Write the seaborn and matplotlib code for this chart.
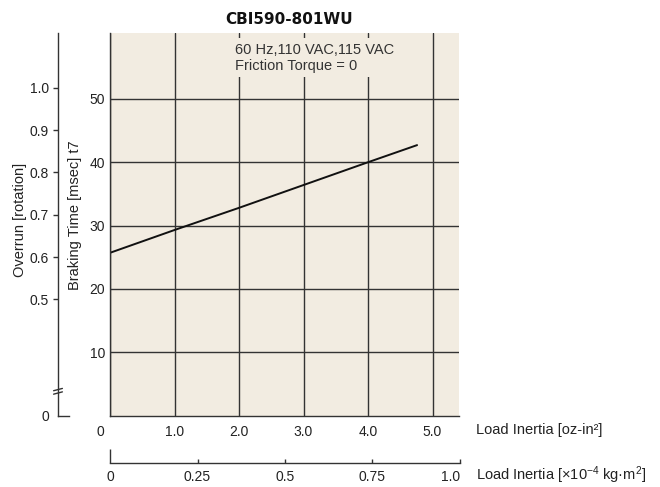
import numpy as np
import pandas as pd
import matplotlib
matplotlib.use("Agg")
import matplotlib.pyplot as plt
import matplotlib.transforms as mtransforms
import seaborn as sns

# chart data
load_inertia_oz = [0.0, 1.0, 2.0, 3.0, 4.0, 4.76]
braking_time = [25.7, 29.3, 32.8, 36.4, 40.0, 42.7]

x_ticks = [0, 1, 2, 3, 4, 5]
x_tick_labels = ["0", "1.0", "2.0", "3.0", "4.0", "5.0"]
y_ticks = [10, 20, 30, 40, 50]
overrun_ticks = [0.5, 0.6, 0.7, 0.8, 0.9, 1.0]
overrun_labels = ["0.5", "0.6", "0.7", "0.8", "0.9", "1.0"]
si_ticks = [0.25, 0.5, 0.75, 1.0]
si_labels = ["0.25", "0.5", "0.75", "1.0"]

title = "CBI590-801WU"
note = "60 Hz,110 VAC,115 VAC\nFriction Torque = 0"

sns.set_theme(style="white")
plt.rcParams["font.family"] = ["Liberation Sans", "DejaVu Sans"]
plt.rcParams["mathtext.fontset"] = "custom"
plt.rcParams["mathtext.rm"] = "Liberation Sans"

beige = "#f2ece1"
grid_col = "#333333"
text_col = "#222222"
W, H = 660, 487

fig = plt.figure(figsize=(6.6, 4.87), dpi=100)

# main chart
ax = fig.add_axes([110 / W, 1 - 415.6 / H, 349 / W, 382.6 / H])
ax.set_facecolor(beige)
df = pd.DataFrame({"inertia": load_inertia_oz, "time": braking_time})
sns.lineplot(data=df, x="inertia", y="time", color="#111111", linewidth=1.4, ax=ax)
ax.set_xlim(0, 5.41)
ax.set_ylim(0, 60.4)
ax.set_xticks(x_ticks)
ax.set_xticklabels(x_tick_labels)
ax.set_yticks(y_ticks)
ax.set_xlabel("")
ax.set_ylabel("")
ax.grid(True, color=grid_col, linewidth=1.0)
ax.set_axisbelow(True)
for s in ["top", "right"]:
    ax.spines[s].set_visible(False)
for s in ["left", "bottom"]:
    ax.spines[s].set_color(grid_col)
    ax.spines[s].set_linewidth(1.0)
ax.tick_params(axis="x", length=0, pad=6.5, labelsize=10, labelcolor=text_col)
ax.tick_params(axis="y", length=0, pad=3.6, labelsize=10, labelcolor=text_col)
# shift the "0" label left, as in the original
zero_lab = ax.get_xticklabels()[0]
zero_lab.set_transform(zero_lab.get_transform()
                       + mtransforms.ScaledTranslation(-10 / 100, 0, fig.dpi_scale_trans))

ax.text(1.94, 58.9, note, ha="left", va="top", fontsize=10.5, color="#333333",
        linespacing=1.2,
        bbox=dict(facecolor=beige, edgecolor="none", pad=3.0))

# overrun axis (broken)
ax_o = fig.add_axes([58 / W, 1 - 415.6 / H, 11 / W, 382.6 / H])
ax_o.set_facecolor("none")
ax_o.set_ylim(0.2248, 1.130)
ax_o.set_xlim(0, 1)
ax_o.set_xticks([])
ax_o.set_yticks(overrun_ticks)
ax_o.set_yticklabels(overrun_labels)
ax_o.set_yticks([0.2248], minor=True)
ax_o.set_yticklabels(["0"], minor=True)
for s in ["top", "right"]:
    ax_o.spines[s].set_visible(False)
for s in ["left", "bottom"]:
    ax_o.spines[s].set_color(grid_col)
    ax_o.spines[s].set_linewidth(1.0)
ax_o.tick_params(axis="y", which="major", left=True, direction="out", length=3.6,
                 width=1.0, color=grid_col, pad=3, labelsize=10, labelcolor=text_col)
ax_o.tick_params(axis="y", which="minor", left=True, length=0, pad=6.3, labelsize=10,
                 labelcolor=text_col)
# break mark on the spine
yb = 1 - (391.3 - 33) / 382.6
ax_o.plot([0, 0], [yb - 0.004, yb + 0.004], transform=ax_o.transAxes,
          color="white", linewidth=2.5, clip_on=False, solid_capstyle="butt")
for dy in (-0.0045, 0.0045):
    ax_o.plot([-0.4, 0.4], [yb + dy - 0.003, yb + dy + 0.003], transform=ax_o.transAxes,
              color=grid_col, linewidth=1.0, clip_on=False)

# SI load inertia axis
ax_si = fig.add_axes([110 / W, 1 - 463 / H, 350 / W, 0.01])
ax_si.set_facecolor("none")
ax_si.set_xlim(0, 1)
ax_si.set_yticks([])
ax_si.set_xticks(si_ticks)
ax_si.set_xticklabels(si_labels)
ax_si.set_xticks([0], minor=True)
ax_si.set_xticklabels(["0"], minor=True)
for s in ["top", "right", "left"]:
    ax_si.spines[s].set_visible(False)
ax_si.spines["bottom"].set_color(grid_col)
ax_si.spines["bottom"].set_linewidth(1.0)
ax_si.tick_params(axis="x", which="major", bottom=True, direction="in", length=3,
                  width=1.0, color=grid_col, pad=5, labelsize=10, labelcolor=text_col)
ax_si.tick_params(axis="x", which="minor", bottom=True, direction="in", length=10,
                  width=1.0, color=grid_col, pad=5, labelsize=10, labelcolor=text_col)
ax_si.get_xticklabels()[-1].set_horizontalalignment("right")

# labels
fig.text(289 / W, 1 - 19 / H, title, ha="center", va="center", fontsize=11,
         fontweight="bold", family=["DejaVu Sans"], color="#111111")
fig.text(476 / W, 1 - 430 / H, "Load Inertia [oz-in²]", ha="left", va="center",
         fontsize=10.5, color=text_col)
fig.text(476 / W, 1 - 475 / H,
         r"Load Inertia [×10$\mathregular{^{-4}}$ kg·m$\mathregular{^{2}}$]",
         ha="left", va="center", fontsize=10.5, color=text_col)
fig.text(75 / W, 1 - 215 / H, "Braking Time [msec] t7", rotation=90,
         ha="center", va="center", fontsize=10.5, color=text_col)
fig.text(20 / W, 1 - 220 / H, "Overrun [rotation]", rotation=90,
         ha="center", va="center", fontsize=10.5, color=text_col)

fig.savefig("out.png", dpi=100)
